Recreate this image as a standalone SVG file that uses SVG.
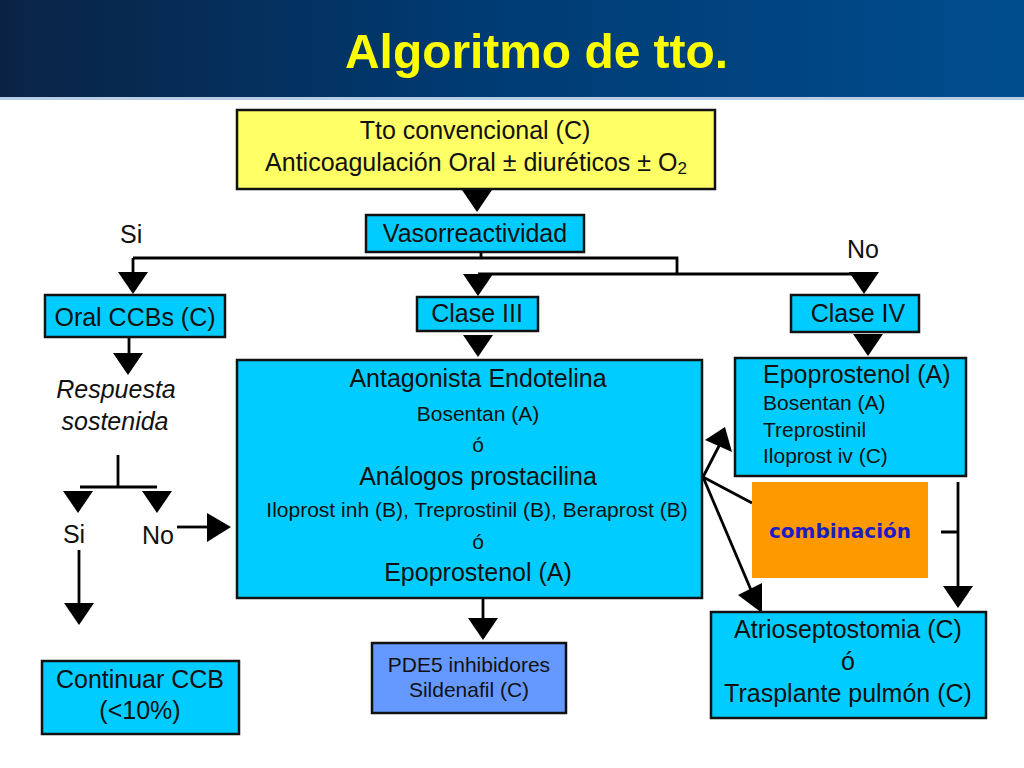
<svg xmlns="http://www.w3.org/2000/svg" xmlns:xlink="http://www.w3.org/1999/xlink" width="1024" height="768" viewBox="0 0 1024 768">
<defs>
<linearGradient id="hdr" x1="0" y1="0" x2="1" y2="0">
<stop offset="0" stop-color="#0a2344"/>
<stop offset="0.45" stop-color="#003a72"/>
<stop offset="1" stop-color="#004d8e"/>
</linearGradient>
<polygon id="tri" points="-15,-22 15,-22 0,0" fill="#000"/>
<style>
.box{stroke:#111;stroke-width:2.5}
.cy{fill:#00ccff}
.t{font-family:"Liberation Sans",Arial,sans-serif;fill:#111;font-size:25px}
.s{font-size:21px}
.m{text-anchor:middle}
.ln{stroke:#000;stroke-width:2.8;fill:none}
</style>
</defs>
<rect width="1024" height="768" fill="#fff"/>
<rect x="0" y="0" width="1024" height="97" fill="url(#hdr)"/>
<rect x="0" y="97" width="1024" height="3" fill="#b7cde6"/>
<text x="345" y="68" font-family="Liberation Sans,Arial,sans-serif" font-weight="bold" font-size="49" fill="#ffff00" textLength="383" lengthAdjust="spacingAndGlyphs">Algoritmo de tto.</text>

<g id="connectors">
<use xlink:href="#tri" x="477" y="212"/>
<path class="ln" d="M481,252 V258 M133,258 H677 V274 M478,274 H866 M133,258 V272"/>
<use xlink:href="#tri" x="133" y="294"/>
<use xlink:href="#tri" x="478" y="296"/>
<use xlink:href="#tri" x="864" y="294"/>
<use xlink:href="#tri" x="478" y="357"/>
<use xlink:href="#tri" x="868" y="356"/>
<path class="ln" d="M129,337 V353"/>
<use xlink:href="#tri" x="128" y="375"/>
<path class="ln" d="M118,455 V487 M80,487 H157"/>
<use xlink:href="#tri" x="78" y="513"/>
<use xlink:href="#tri" x="157" y="513"/>
<path class="ln" d="M79,550 V604"/>
<use xlink:href="#tri" x="79" y="625"/>
<path class="ln" d="M177,527 H209"/>
<polygon points="207,513 231,527 207,542" fill="#000"/>
<path class="ln" d="M483,598 V619"/>
<use xlink:href="#tri" x="483" y="640"/>
<path class="ln" d="M958,482 V589 M941,532 H958"/>
<use xlink:href="#tri" x="958" y="608"/>
<path class="ln" d="M703,477 L720,444 M703,477 L752,503 M703,477 L751,590"/>
<polygon points="705,440 725,427 732,452" fill="#000"/>
<polygon points="738,595 762,583 762,613" fill="#000"/>
</g>

<g id="tto">
<rect class="box" x="237" y="110" width="478" height="79" fill="#ffff66"/>
<text class="t m" x="475" y="139">Tto convencional (C)</text>
<text class="t m" x="476" y="171">Anticoagulación Oral ± diuréticos ± O<tspan font-size="17" dy="3">2</tspan></text>
</g>
<g id="vaso">
<rect class="box cy" x="366" y="215" width="218" height="37"/>
<text class="t m" x="475" y="242">Vasorreactividad</text>
</g>
<text class="t" x="120" y="243">Si</text>
<text class="t" x="847" y="258">No</text>
<g id="ccb">
<rect class="box cy" x="45" y="295" width="180" height="42"/>
<text class="t m" x="135" y="326">Oral CCBs (C)</text>
</g>
<g id="clase3">
<rect class="box cy" x="417" y="297" width="121" height="34"/>
<text class="t m" x="477" y="322">Clase III</text>
</g>
<g id="clase4">
<rect class="box cy" x="791" y="295" width="128" height="37"/>
<text class="t m" x="858" y="322">Clase IV</text>
</g>
<g id="respuesta">
<text class="t m" x="116" y="398" font-style="italic">Respuesta</text>
<text class="t m" x="115" y="430" font-style="italic">sostenida</text>
</g>
<text class="t m" x="74" y="543">Si</text>
<text class="t m" x="158" y="544">No</text>
<g id="main">
<rect class="box cy" x="237" y="360" width="465" height="238"/>
<text class="t m" x="478" y="387">Antagonista Endotelina</text>
<text class="t s m" x="478" y="421">Bosentan (A)</text>
<text class="t s m" x="478" y="452">ó</text>
<text class="t m" x="478" y="485">Análogos prostacilina</text>
<text class="t s m" x="477" y="517">Iloprost inh (B), Treprostinil (B), Beraprost (B)</text>
<text class="t s m" x="478" y="549">ó</text>
<text class="t m" x="478" y="581">Epoprostenol (A)</text>
</g>
<g id="clase4box">
<rect class="box cy" x="735" y="358" width="231" height="118"/>
<text class="t" x="763" y="383">Epoprostenol (A)</text>
<text class="t s" x="763" y="410">Bosentan (A)</text>
<text class="t s" x="763" y="437">Treprostinil</text>
<text class="t s" x="763" y="463">Iloprost iv (C)</text>
</g>
<g id="combinacion">
<rect x="752" y="482" width="176" height="96" fill="#ff9900"/>
<text x="840" y="538" text-anchor="middle" font-family="DejaVu Sans,sans-serif" font-weight="bold" font-size="20" fill="#1c1cc4">combinación</text>
</g>
<g id="continuar">
<rect class="box cy" x="42" y="661" width="197" height="73"/>
<text class="t m" x="140" y="688">Continuar CCB</text>
<text class="t m" x="140" y="719">(&lt;10%)</text>
</g>
<g id="pde5">
<rect class="box" x="372" y="643" width="194" height="70" fill="#6699ff"/>
<text class="t s m" x="469" y="672">PDE5 inhibidores</text>
<text class="t s m" x="469" y="697">Sildenafil (C)</text>
</g>
<g id="atrio">
<rect class="box cy" x="711" y="612" width="275" height="106"/>
<text class="t m" x="848" y="638">Atrioseptostomia (C)</text>
<text class="t m" x="848" y="670">ó</text>
<text class="t m" x="848" y="702">Trasplante pulmón (C)</text>
</g>
</svg>
